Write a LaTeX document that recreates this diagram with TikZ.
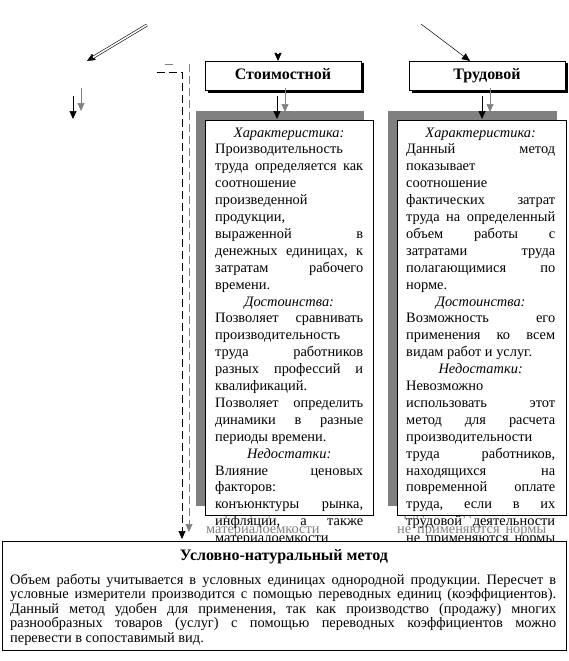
\documentclass[tikz,border=0pt]{standalone}
\usepackage{fontspec}
\setmainfont{Liberation Serif}
\usetikzlibrary{arrows.meta,shadows}
\frenchspacing
\definecolor{shgray}{RGB}{128,128,128}
\newdimen\colw
\newcommand{\JLn}[1]{\hbox to \colw{#1}}
\newcommand{\LLn}[1]{\hbox to \colw{#1\hfil}}
\newcommand{\CLn}[1]{\hbox to \colw{\hfil\textit{#1}\hfil}}
\newcommand{\colA}{%
\CLn{Характеристика:}
\LLn{Производительность}
\JLn{труда определяется как}
\LLn{соотношение}
\LLn{произведенной}
\LLn{продукции,}
\JLn{выраженной в}
\JLn{денежных единицах, к}
\JLn{затратам рабочего}
\LLn{времени.}
\CLn{Достоинства:}
\JLn{Позволяет сравнивать}
\LLn{производительность}
\JLn{труда работников}
\JLn{разных профессий и}
\LLn{квалификаций.}
\JLn{Позволяет определить}
\JLn{динамики в разные}
\LLn{периоды времени.}
\CLn{Недостатки:}
\JLn{Влияние ценовых}
\LLn{факторов:}
\JLn{конъюнктуры рынка,}
\JLn{инфляции, а также}
\LLn{материалоемкости}
}
\newcommand{\colB}{%
\CLn{Характеристика:}
\JLn{Данный метод}
\LLn{показывает}
\LLn{соотношение}
\JLn{фактических затрат}
\JLn{труда на определенный}
\JLn{объем работы с}
\JLn{затратами труда}
\JLn{полагающимися по}
\LLn{норме.}
\CLn{Достоинства:}
\JLn{Возможность его}
\JLn{применения ко всем}
\LLn{видам работ и услуг.}
\CLn{Недостатки:}
\LLn{Невозможно}
\JLn{использовать этот}
\JLn{метод для расчета}
\LLn{производительности}
\JLn{труда работников,}
\JLn{находящихся на}
\JLn{повременной оплате}
\JLn{труда, если в их}
\JLn{трудовой деятельности}
\JLn{не применяются нормы}
}
\begin{document}
\begin{tikzpicture}[x=1pt,y=-1pt,
  tipb/.style={-{Triangle[length=8pt,width=7pt]}},
  dbl/.style={double, double distance=1.6pt, line width=0.6pt, shorten >=7pt},
  headbox/.style={draw, fill=white, line width=0.8pt, minimum width=156pt, minimum height=29pt,
    inner sep=0pt, font=\fontsize{16}{19}\selectfont\bfseries, text height=11pt, text depth=3pt,
    drop shadow={shadow xshift=2.5pt, shadow yshift=-2.5pt, fill=black, opacity=1}},
  colbox/.style={draw, fill=white, line width=0.8pt, anchor=north west, inner sep=0pt},
  coltext/.style={anchor=base west, inner sep=0pt},
  colfont/.style={font=\fontsize{14.4}{16.9}\selectfont},
  dsh/.style={dash pattern=on 8pt off 4pt, line width=0.7pt}
]
\useasboundingbox (0,0) rectangle (568,661);

% ---- left column: gray shadow (only the overflowing lines of its text show) ----
\fill[shgray] (196,111) rectangle (364,506);
\node[coltext, colfont, text=shgray] (gA23) at (206,516.7) {\colw=148pt\JLn{инфляции, а также}};
\node[coltext, colfont, text=shgray] (gA24) at (206,533.6) {\colw=148pt\LLn{материалоемкости}};
\node[colbox, minimum width=168pt, minimum height=395pt] (boxA) at (205,120) {};
\node[coltext] (txtA) at (215,137) {\vtop{\colw=148pt\fontsize{14.4}{16.9}\selectfont\colA}};

% ---- right column: gray shadow ----
\fill[shgray] (388,111) rectangle (557,506);
\node[coltext, colfont, text=shgray] (gB23) at (397,516.7) {\colw=149pt\JLn{трудовой деятельности}};
\node[coltext, colfont, text=shgray] (gB24) at (397,533.6) {\colw=149pt\JLn{не применяются нормы}};
\node[colbox, minimum width=169pt, minimum height=395pt] (boxB) at (397,120) {};
\node[coltext] (txtB) at (406,137) {\vtop{\colw=149pt\fontsize{14.4}{16.9}\selectfont\colB}};

% ---- bottom box ----
\node[draw, fill=white, line width=0.8pt, anchor=north west, inner sep=0pt,
  minimum width=564pt, minimum height=109pt] (bot) at (2,541) {};
\node[anchor=base, inner sep=0pt, font=\fontsize{16}{19}\selectfont\bfseries] (bottitle) at (284,560) {Условно-натуральный метод};
\node[coltext] (bottext) at (10,584) {\vtop{\colw=546pt\fontsize{14.4}{14.6}\selectfont
\JLn{Объем работы учитывается в условных единицах однородной продукции. Пересчет в}
\JLn{условные измерители производится с помощью переводных единиц (коэффициентов).}
\JLn{Данный метод удобен для применения, так как производство (продажу) многих}
\JLn{разнообразных товаров (услуг) с помощью переводных коэффициентов можно}
\LLn{перевести в сопоставимый вид.}}};

% ---- heading boxes ----
\node[headbox] (st) at (283,75.5) {Стоимостной};
\node[headbox] (tr) at (487,75.5) {Трудовой};

% ---- top arrows ----
\coordinate (d1s) at (147,25);
\coordinate (d1e) at (87,61);
\draw[tipb, line width=0.4pt] (d1s) -- (d1e);
\draw[dbl] (d1s) -- (d1e);
\coordinate (v1s) at (278,24);
\coordinate (v1e) at (278,61);
\draw[tipb, line width=0.4pt] (v1s) -- (v1e);
\draw[dbl] (v1s) -- (v1e);
\coordinate (t1s) at (421,24);
\coordinate (t1e) at (470,61);
\draw[tipb, line width=0.5pt] (t1s) -- (t1e);

% ---- small arrows (black and gray) ----
\coordinate (l1s) at (73,96);  \coordinate (l1e) at (73,119);
\coordinate (l2s) at (81,88);  \coordinate (l2e) at (81,111);
\draw[tipb, line width=0.7pt] (l1s) -- (l1e);
\draw[tipb, line width=0.7pt, shgray] (l2s) -- (l2e);
\coordinate (a1s) at (277,96);  \coordinate (a1e) at (277,119);
\coordinate (a2s) at (285,88);  \coordinate (a2e) at (285,112);
\draw[tipb, line width=0.7pt] (a1s) -- (a1e);
\draw[tipb, line width=0.7pt, shgray] (a2s) -- (a2e);
\coordinate (b1s) at (482,96);  \coordinate (b1e) at (482,119);
\coordinate (b2s) at (490,88);  \coordinate (b2e) at (490,112);
\draw[tipb, line width=0.7pt] (b1s) -- (b1e);
\draw[tipb, line width=0.7pt, shgray] (b2s) -- (b2e);

% ---- dashed connectors ----
\coordinate (k1s) at (157,72); \coordinate (k1c) at (182,72); \coordinate (k1e) at (182,539);
\coordinate (k2s) at (165,64); \coordinate (k2m) at (173,64);
\coordinate (k2c) at (189,64); \coordinate (k2e) at (189,532);
\draw[dsh, tipb] (k1s) -- (k1c) -- (k1e);
\draw[line width=0.7pt, shgray] (k2s) -- (k2m);
\draw[dsh, tipb, shgray] (k2c) -- (k2e);
\end{tikzpicture}
\end{document}
